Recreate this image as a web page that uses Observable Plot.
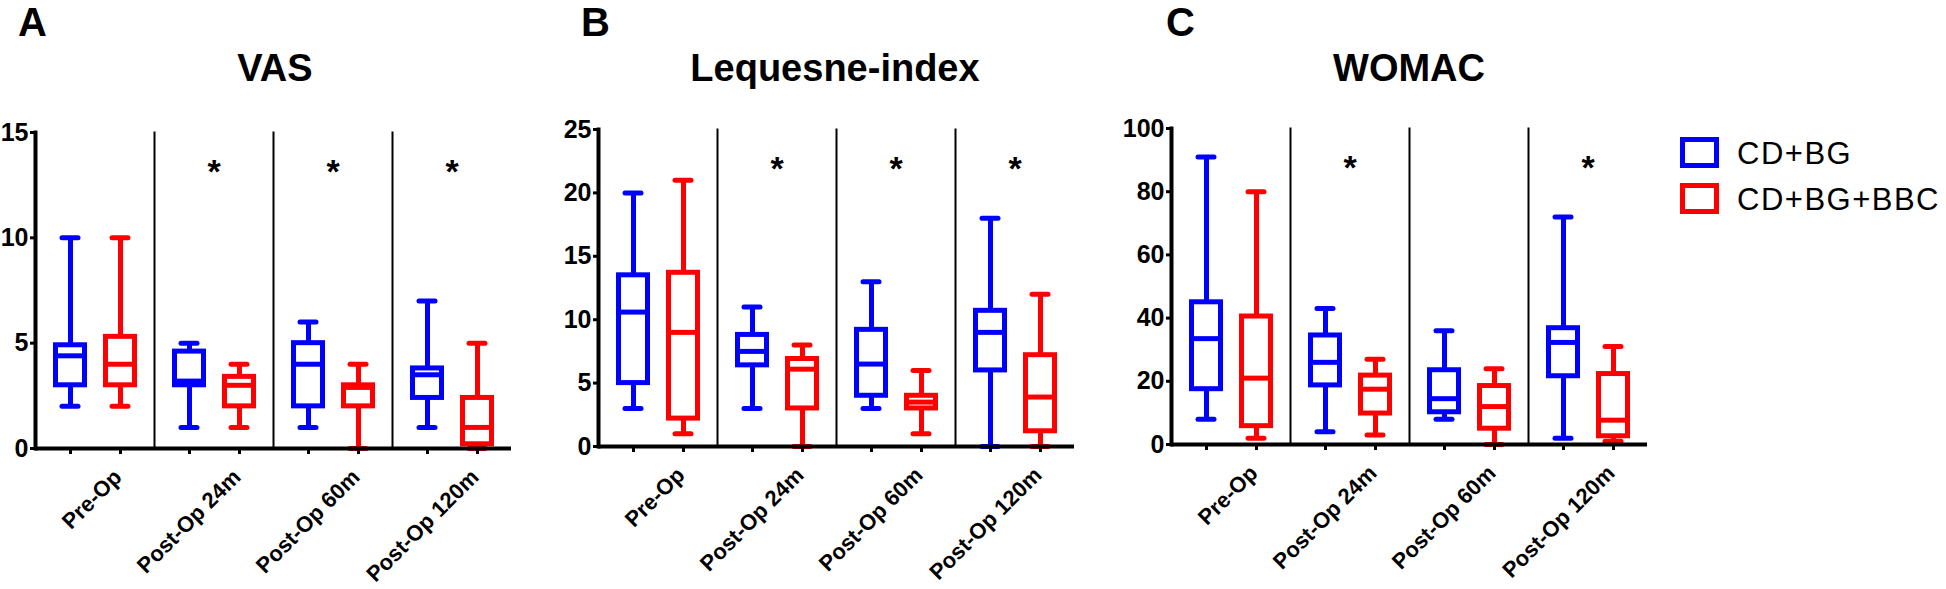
<!DOCTYPE html>
<html><head><meta charset="utf-8">
<script src="https://cdn.jsdelivr.net/npm/d3@7"></script>
<script src="https://cdn.jsdelivr.net/npm/@observablehq/plot@0.6"></script>
<style>
body{margin:0;background:#fff;}
#root{position:relative;width:1946px;height:589px;overflow:hidden;font-family:"Liberation Sans",Arial,sans-serif;background:#fff;}
.abs{position:absolute;line-height:1;white-space:nowrap;color:#000;}
.letter{font-size:40px;font-weight:bold;}
.title{font-size:38px;font-weight:bold;transform:translateX(-50%);}
.panel{position:absolute;top:0;}
.leg{font-size:31px;letter-spacing:1.5px;}
.sw{position:absolute;width:29px;height:21px;border:5px solid;box-sizing:content-box;}
</style></head><body><div id="root"></div>
<script>
// ---- data ----
const times = ["Pre-Op", "Post-Op 24m", "Post-Op 60m", "Post-Op 120m"];
const groups = ["CD+BG", "CD+BG+BBC"];
const groupColors = ["#0000ff", "#ff0000"];

// each entry: [min, q1, median, q3, max] per timepoint
const vasCDBG    = [[2, 3, 4.4, 4.9, 10], [1, 3, 3.2, 4.6, 5], [1, 2, 4, 5, 6], [1, 2.4, 3.5, 3.8, 7]];
const vasCDBGBBC = [[2, 3, 4, 5.3, 10], [1, 2, 3, 3.4, 4], [0, 2, 2.9, 3, 4], [0, 0.2, 1, 2.4, 5]];
const lqCDBG     = [[3, 5, 10.6, 13.5, 20], [3, 6.4, 7.5, 8.8, 11], [3, 4, 6.5, 9.2, 13], [0, 6, 9, 10.7, 18]];
const lqCDBGBBC  = [[1, 2.2, 9, 13.7, 21], [0, 3, 6.1, 6.9, 8], [1, 3, 3.5, 4, 6], [0, 1.2, 3.9, 7.2, 12]];
const womCDBG    = [[8, 17.5, 33.5, 45, 91], [4, 18.7, 26, 34.5, 43], [8, 10.2, 14.5, 23.5, 36], [2, 21.6, 32.3, 36.8, 72]];
const womCDBGBBC = [[2, 5.8, 21, 40.5, 80], [3, 9.8, 17.5, 21.8, 27], [0, 5, 12, 18.5, 24], [1, 2.6, 7.7, 22.3, 31]];

const vasTicks = [0, 5, 10, 15];
const lqTicks = [0, 5, 10, 15, 20, 25];
const womTicks = [0, 20, 40, 60, 80, 100];

const vasStars = ["Post-Op 24m", "Post-Op 60m", "Post-Op 120m"];
const lqStars = ["Post-Op 24m", "Post-Op 60m", "Post-Op 120m"];
const womStars = ["Post-Op 24m", "Post-Op 120m"];

const legendLabels = ["CD+BG", "CD+BG+BBC"];

// ---- build ----
function rowsOf(a, b) {
  const rows = [];
  times.forEach((t, i) => {
    [a, b].forEach((s, g) => {
      const [min, q1, med, q3, max] = s[i];
      rows.push({time: t, group: groups[g], min, q1, med, q3, max});
    });
  });
  return rows;
}

const FONT = '"Liberation Sans", Arial, sans-serif';

function panel({rows, ticks, stars, width, ml, mt, plotH}) {
  const mr = width - ml - 477 < 0 ? 10 : width - ml - 477;
  return Plot.plot({
    width, height: 589,
    marginLeft: ml, marginRight: mr, marginTop: mt, marginBottom: 589 - mt - plotH,
    style: {fontFamily: FONT, background: "transparent", overflow: "visible", color: "#000"},
    fx: {domain: times, padding: 0, axis: null},
    x: {domain: groups, type: "band", paddingInner: 0, paddingOuter: 0.17, axis: null},
    y: {domain: [ticks[0], ticks[ticks.length - 1]], axis: null},
    color: {domain: groups, range: groupColors},
    marks: [
      Plot.frame({anchor: "left", stroke: "#000", strokeWidth: 2, strokeDasharray: "1.5,1.5"}),
      Plot.ruleX(rows, {fx: "time", x: "group", y1: "min", y2: "max", stroke: "group", strokeWidth: 5}),
      Plot.tickY(rows, {fx: "time", x: "group", y: "min", stroke: "group", strokeWidth: 5, strokeLinecap: "round", insetLeft: 17, insetRight: 17}),
      Plot.tickY(rows, {fx: "time", x: "group", y: "max", stroke: "group", strokeWidth: 5, strokeLinecap: "round", insetLeft: 17, insetRight: 17}),
      Plot.barY(rows, {fx: "time", x: "group", y1: "q1", y2: "q3", fill: "white", stroke: "group", strokeWidth: 5, insetLeft: 10.5, insetRight: 10.5}),
      Plot.tickY(rows, {fx: "time", x: "group", y: "med", stroke: "group", strokeWidth: 5, insetLeft: 10.5, insetRight: 10.5}),
      Plot.ruleY([ticks[0]], {strokeWidth: 4, stroke: "#000"}),
      Plot.frame({anchor: "left", facet: "super", strokeWidth: 4, stroke: "#000"}),
      Plot.axisX({tickSize: 6, strokeWidth: 3, stroke: "#000", tickFormat: () => "", label: null}),
      Plot.axisY({ticks, tickSize: 5, tickPadding: 2, fontSize: 25, fontWeight: "bold", strokeWidth: 3, label: null}),
      Plot.text(stars, {fx: d => d, text: () => "*", frameAnchor: "top", lineAnchor: "top", dy: 26, fontSize: 34, fontWeight: "bold"}),
      Plot.text(times, {fx: d => d, text: d => d, frameAnchor: "bottom", rotate: -45, textAnchor: "end", lineAnchor: "middle", dx: 23, dy: 25, fontSize: 22, fontWeight: "bold"})
    ]
  });
}

const root = document.getElementById("root");
function place(el, left) { el.classList.add("panel"); el.style.left = left + "px"; root.appendChild(el); }

place(panel({rows: rowsOf(vasCDBG, vasCDBGBBC), ticks: vasTicks, stars: vasStars, width: 531, ml: 34, mt: 132, plotH: 316}), 0);
place(panel({rows: rowsOf(lqCDBG, lqCDBGBBC), ticks: lqTicks, stars: lqStars, width: 551, ml: 57, mt: 129, plotH: 317}), 540);
place(panel({rows: rowsOf(womCDBG, womCDBGBBC), ticks: womTicks, stars: womStars, width: 565, ml: 70, mt: 128, plotH: 316}), 1100);

function txt(cls, s, left, top) {
  const d = document.createElement("div");
  d.className = "abs " + cls; d.textContent = s;
  d.style.left = left + "px"; d.style.top = top + "px";
  root.appendChild(d); return d;
}
txt("letter", "A", 18, 2);
txt("letter", "B", 581, 2);
txt("letter", "C", 1166, 2);
txt("title", "VAS", 275, 49);
txt("title", "Lequesne-index", 835, 49);
txt("title", "WOMAC", 1409, 49);

legendLabels.forEach((l, i) => {
  const sw = document.createElement("div");
  sw.className = "sw";
  sw.style.borderColor = groupColors[i];
  sw.style.left = "1680px"; sw.style.top = (137 + 46 * i) + "px";
  root.appendChild(sw);
  txt("leg", l, 1737, 138 + 46 * i);
});
</script></body></html>
